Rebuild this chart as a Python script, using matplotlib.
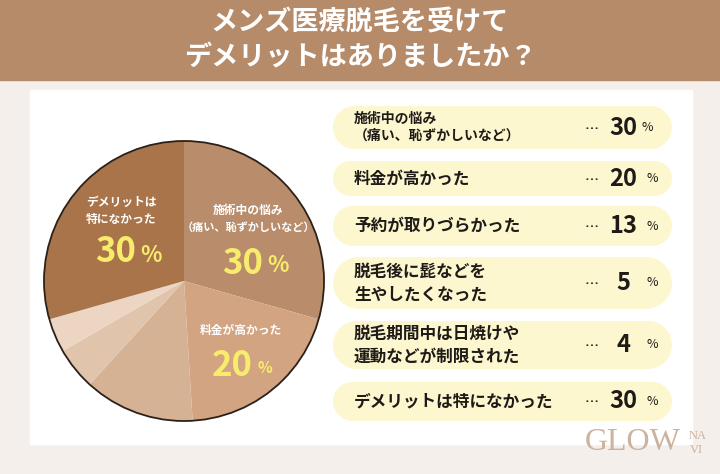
import matplotlib.pyplot as plt
from matplotlib.patches import Rectangle, Circle

plt.rcParams['font.family'] = ['Noto Sans CJK JP', 'DejaVu Sans']

title_lines = ['メンズ医療脱毛を受けて', 'デメリットはありましたか？']
categories = [
    '施術中の悩み\n（痛い、恥ずかしいなど）',
    '料金が高かった',
    '予約が取りづらかった',
    '脱毛後に髭などを\n生やしたくなった',
    '脱毛期間中は日焼けや\n運動などが制限された',
    'デメリットは特になかった',
]
values = [30, 20, 13, 5, 4, 30]
slice_colors = ['#B98D6B', '#D2A481', '#D6B295', '#E0C4AC', '#ECD6C3', '#A97449']

W, H = 720, 474


def Y(y):
    # image-style y (top down) -> axes y (bottom up)
    return H - y


fig = plt.figure(figsize=(7.2, 4.74), dpi=100)
fig.patch.set_facecolor('#F4EFEA')
ax = fig.add_axes([0, 0, 1, 1])

# background, header and card
ax.add_patch(Rectangle((0, Y(80)), W, 80, color='#B68B6A', zorder=0))
ax.add_patch(Rectangle((30, Y(444)), 662, 354, color='white', zorder=0))
for i, line in enumerate(title_lines):
    ax.text(W / 2, Y(22 + 35 * i), line, color='white', fontsize=19.5,
            fontweight='bold', ha='center', va='center')

# pie
cx, cy, r = 184, Y(281), 140
ax.pie(values, colors=slice_colors, startangle=90, counterclock=False,
       center=(cx, cy), radius=r, wedgeprops=dict(linewidth=0))
ax.add_patch(Circle((cx, cy), r, fill=False, ec='#2b2119', lw=1.3, zorder=5))

ax.text(248, Y(210), '施術中の悩み', color='white', fontsize=8.5,
        fontweight='bold', ha='center', va='center')
ax.text(248, Y(227), '（痛い、恥ずかしいなど）', color='white', fontsize=8,
        fontweight='bold', ha='center', va='center')
ax.text(121, Y(202), 'デメリットは', color='white', fontsize=8.5,
        fontweight='bold', ha='center', va='center')
ax.text(121, Y(219), '特になかった', color='white', fontsize=8.5,
        fontweight='bold', ha='center', va='center')
ax.text(241, Y(330), '料金が高かった', color='white', fontsize=8.5,
        fontweight='bold', ha='center', va='center')

yellow = '#F8EC6C'
pie_pct = [(263, 263, values[0], 16), (253, 365, values[1], 11), (136, 252, values[5], 16)]
for x, y, v, ps in pie_pct:
    ax.text(x, Y(y), str(v), color=yellow, fontsize=25, fontweight='bold',
            ha='right', va='center')
    ax.text(x + 4, Y(y + 3), '%', color=yellow, fontsize=ps, fontweight='bold',
            ha='left', va='center')

# right list
pill_tops = [106, 161, 206, 257, 321, 382]
pill_bottoms = [149, 196, 246, 309, 369, 421]
pill_color = '#FDF7CF'
for i, (cat, v) in enumerate(zip(categories, values)):
    t, b = pill_tops[i], pill_bottoms[i]
    h = b - t
    mid = t + h / 2
    ax.add_patch(Rectangle((333 + h / 2, Y(b)), 339 - h, h, fc=pill_color,
                           ec='none', zorder=2))
    ax.add_patch(Circle((333 + h / 2, Y(mid)), h / 2, fc=pill_color,
                        ec='none', zorder=2))
    ax.add_patch(Circle((672 - h / 2, Y(mid)), h / 2, fc=pill_color,
                        ec='none', zorder=2))
    lines = cat.split('\n')
    fs = 10 if i == 0 else 12
    gap = 17 if i == 0 else 23
    for j, line in enumerate(lines):
        ly = mid + (j - (len(lines) - 1) / 2) * gap
        ax.text(354, Y(ly), line, color='#1E1A17', fontsize=fs,
                fontweight='bold', ha='left', va='center', zorder=3)
    ax.text(592, Y(mid + 1), '…', color='#1E1A17', fontsize=10,
            fontweight='bold', ha='center', va='center', zorder=3)
    ax.text(623, Y(mid), str(v), color='#1E1A17', fontsize=17,
            fontweight='bold', ha='center', va='center', zorder=3)
    ax.text(652 if i else 647, Y(mid), '%', color='#1E1A17', fontsize=9,
            ha='center', va='center', zorder=3)

# logo
ax.text(585, Y(443), 'GLOW', color='#CDB29D', fontsize=23,
        family='Liberation Serif', ha='left', va='center')
ax.text(689, Y(436), 'NA', color='#CDB29D', fontsize=9,
        family='Liberation Serif', ha='left', va='center')
ax.text(690, Y(450), 'VI', color='#CDB29D', fontsize=9,
        family='Liberation Serif', ha='left', va='center')

ax.set_xlim(0, W)
ax.set_ylim(0, H)
ax.set_aspect('auto')
ax.axis('off')

fig.savefig('out.png', dpi=100, facecolor=fig.get_facecolor())
